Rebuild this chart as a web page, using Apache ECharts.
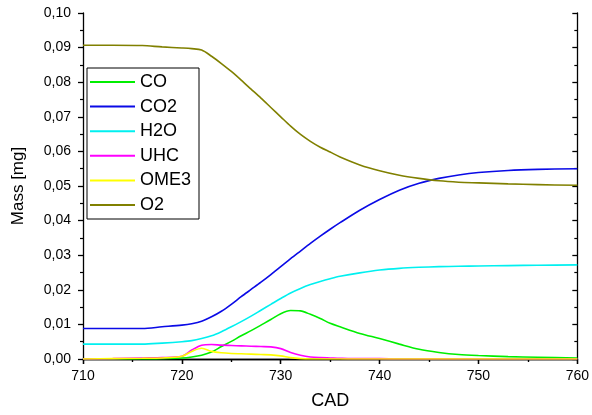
<!DOCTYPE html>
<html>
<head>
<meta charset="utf-8">
<script src="https://cdn.jsdelivr.net/npm/echarts@6/dist/echarts.min.js"></script>
<style>
html,body{margin:0;padding:0;background:#fff;}
#c{width:592px;height:415px;}
</style>
</head>
<body>
<div id="c"></div>
<script>
const CAD = [710, 713, 716, 718, 720, 721, 722, 723, 724, 725, 726, 727, 728, 729, 730, 731, 732, 733, 734, 735, 736, 738, 740, 742, 744, 746, 748, 750, 753, 756, 760];
const CO   = [0, 0, 0, 0.0001, 0.0003, 0.0006, 0.0011, 0.0020, 0.0036, 0.0051, 0.0067, 0.0082, 0.0098, 0.0114, 0.0131, 0.0140, 0.0139, 0.0129, 0.0117, 0.0103, 0.0093, 0.0074, 0.0059, 0.0043, 0.0028, 0.0019, 0.0013, 0.0010, 0.0007, 0.0005, 0.0003];
const CO2  = [0.0088, 0.0088, 0.0088, 0.0093, 0.0098, 0.0102, 0.0109, 0.0122, 0.0138, 0.0158, 0.0180, 0.0201, 0.0222, 0.0244, 0.0267, 0.0290, 0.0312, 0.0334, 0.0355, 0.0375, 0.0394, 0.0430, 0.0461, 0.0488, 0.0508, 0.0522, 0.0532, 0.0539, 0.0545, 0.0548, 0.0550];
const H2O  = [0.0043, 0.0043, 0.0043, 0.0046, 0.0050, 0.0053, 0.0059, 0.0067, 0.0079, 0.0093, 0.0108, 0.0124, 0.0141, 0.0158, 0.0175, 0.0191, 0.0204, 0.0215, 0.0224, 0.0232, 0.0239, 0.0249, 0.0257, 0.0262, 0.0265, 0.0267, 0.0268, 0.0269, 0.0270, 0.0271, 0.0272];
const UHC  = [0, 0.0001, 0.0003, 0.0004, 0.0008, 0.0026, 0.0040, 0.0042, 0.0040, 0.0039, 0.0038, 0.0037, 0.0036, 0.0035, 0.0030, 0.0019, 0.0011, 0.0006, 0.0004, 0.0003, 0.0002, 0.0001, 0.0001, 0, 0, 0, 0, 0, 0, 0, 0];
const OME3 = [0, 0.0001, 0.0002, 0.0003, 0.0008, 0.0022, 0.0031, 0.0022, 0.0018, 0.0016, 0.0015, 0.0014, 0.0013, 0.0012, 0.0009, 0.0004, 0.0001, 0, 0, 0, 0, 0, 0, 0, 0, 0, 0, 0, 0, 0, 0];
const O2   = [0.0907, 0.0907, 0.0906, 0.0902, 0.0899, 0.0897, 0.0893, 0.0875, 0.0854, 0.0831, 0.0806, 0.0780, 0.0754, 0.0727, 0.0700, 0.0673, 0.0649, 0.0629, 0.0612, 0.0598, 0.0584, 0.0561, 0.0544, 0.0531, 0.0522, 0.0515, 0.0511, 0.0509, 0.0506, 0.0504, 0.0502];
const SERIES_NAMES = ['CO', 'CO2', 'H2O', 'UHC', 'OME3', 'O2'];
const SERIES_VALUES = [CO, CO2, H2O, UHC, OME3, O2];
const COLORS = ['#00ee00', '#0a0ae6', '#00f0f0', '#ff00ff', '#ffff00', '#808000'];

const FONT = 'Liberation Sans, Arial, sans-serif';
const chart = echarts.init(document.getElementById('c'));
const series = SERIES_NAMES.map((n, i) => ({
  name: n,
  type: 'line',
  xAxisIndex: 0,
  yAxisIndex: 0,
  symbol: 'none',
  smooth: 0.3,
  lineStyle: { color: COLORS[i], width: 1.6 },
  itemStyle: { color: COLORS[i] },
  data: CAD.map((x, k) => [x, SERIES_VALUES[i][k]])
}));
const commonAxisLine = { show: true, lineStyle: { color: '#000', width: 1.3 } };
chart.setOption({
  animation: false,
  backgroundColor: '#fff',
  grid: { left: 83, right: 12, top: 13, bottom: 55, containLabel: false },
  legend: {
    orient: 'vertical',
    left: 87, top: 68,
    data: SERIES_NAMES.map(n => ({ name: n, icon: 'rect' })),
    itemWidth: 45, itemHeight: 2, itemGap: 4.6,
    padding: [4, 8, 4, 3],
    borderColor: '#000', borderWidth: 1,
    backgroundColor: '#fff',
    textStyle: { fontFamily: FONT, fontSize: 18, lineHeight: 20, color: '#000', padding: [0, 0, 0, 0] }
  },
  xAxis: [{
    type: 'value', min: 710, max: 760, interval: 10, position: 'bottom',
    name: 'CAD', nameLocation: 'middle', nameGap: 33,
    nameTextStyle: { fontFamily: FONT, fontSize: 18, color: '#000' },
    axisLine: commonAxisLine,
    axisTick: { show: true, inside: false, length: 5, lineStyle: { color: '#000', width: 1.3 } },
    minorTick: { show: true, splitNumber: 2, length: 3, lineStyle: { color: '#000', width: 1.2 } },
    axisLabel: { fontFamily: FONT, fontSize: 14, color: '#000', margin: 10 },
    splitLine: { show: false }
  }, {
    type: 'value', min: 710, max: 760, interval: 10, position: 'top',
    axisLine: commonAxisLine,
    axisTick: { show: true, inside: true, length: 5, lineStyle: { color: '#000', width: 1.3 } },
    minorTick: { show: true, splitNumber: 2, length: 3, lineStyle: { color: '#000', width: 1.2 } },
    axisLabel: { show: false },
    splitLine: { show: false }
  }],
  yAxis: [{
    type: 'value', min: 0, max: 0.1, interval: 0.01, position: 'left',
    name: 'Mass [mg]', nameLocation: 'middle', nameGap: 56,
    nameTextStyle: { fontFamily: FONT, fontSize: 17, color: '#000' },
    axisLine: commonAxisLine,
    axisTick: { show: true, inside: false, length: 5, lineStyle: { color: '#000', width: 1.3 } },
    minorTick: { show: true, splitNumber: 2, length: 3, lineStyle: { color: '#000', width: 1.2 } },
    axisLabel: { fontFamily: FONT, fontSize: 14, color: '#000', margin: 12,
      formatter: v => v.toFixed(2).replace('.', ',') },
    splitLine: { show: false }
  }, {
    type: 'value', min: 0, max: 0.1, interval: 0.01, position: 'right',
    axisLine: commonAxisLine,
    axisTick: { show: true, inside: true, length: 5, lineStyle: { color: '#000', width: 1.3 } },
    minorTick: { show: true, splitNumber: 2, length: 3, lineStyle: { color: '#000', width: 1.2 } },
    axisLabel: { show: false },
    splitLine: { show: false }
  }],
  series: series
});
</script>
</body>
</html>
